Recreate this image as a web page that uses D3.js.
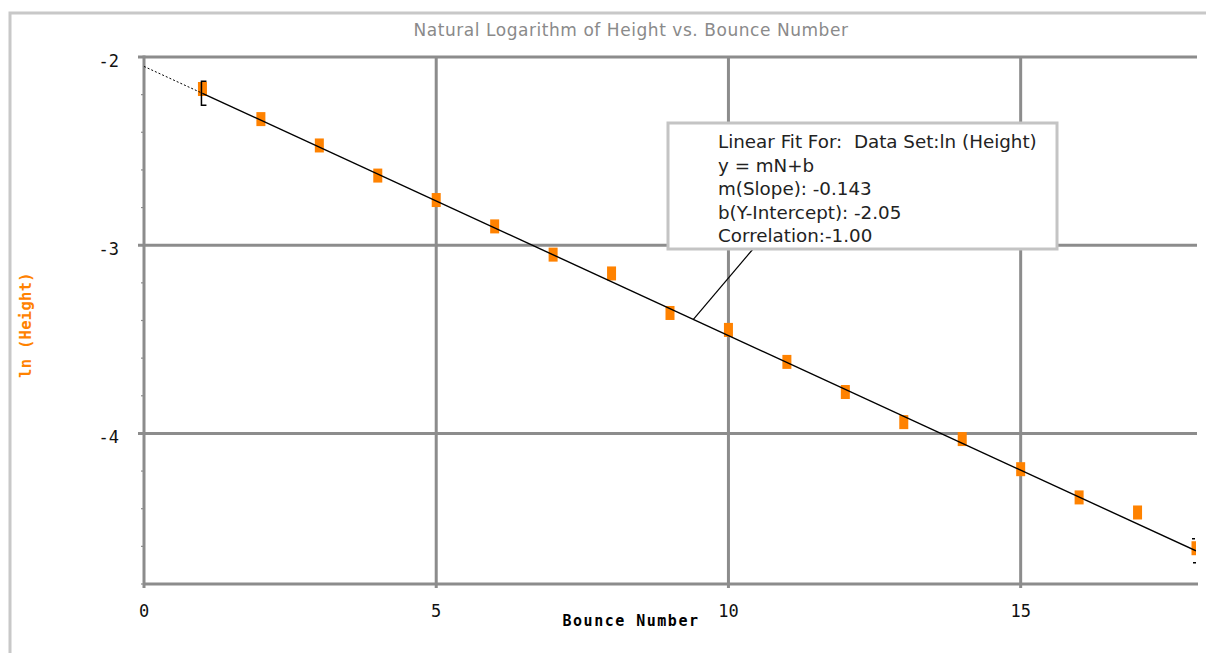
<!DOCTYPE html>
<html>
<head>
<meta charset="utf-8">
<script src="https://cdn.jsdelivr.net/npm/d3@7"></script>
<style>
  html, body { margin: 0; padding: 0; background: #fff; }
  svg { display: block; }
</style>
</head>
<body>
<div id="graph"></div>
<script>
//----------------------------------------------------------
// chart data
var g_bounce = [1, 2, 3, 4, 5, 6, 7, 8, 9, 10, 11, 12, 13, 14, 15, 16, 17, 18];
var g_ln_height = [-2.17, -2.33, -2.47, -2.63, -2.76, -2.90, -3.05, -3.15, -3.36,
                   -3.45, -3.62, -3.78, -3.94, -4.03, -4.19, -4.34, -4.42, -4.61];
var g_x_ticks = [0, 5, 10, 15];
var g_y_ticks = [-2, -3, -4];
var g_fit_slope = -0.143;
var g_fit_intercept = -2.05;
var g_fit_range = [1, 18];
var g_fit_text = [
    "Linear Fit For:  Data Set:ln (Height)",
    "y = mN+b",
    "m(Slope): -0.143",
    "b(Y-Intercept): -2.05",
    "Correlation:-1.00"
];
var g_title = "Natural Logarithm of Height vs. Bounce Number";

//----------------------------------------------------------
const width = 1206, height = 653;
const margin = { left: 144, right: 10, top: 57, bottom: 69 };
const grid_colour = "#8c8c8c";
const orange = "#ff8200";

var g_svg = d3.select("#graph")
  .append("svg")
    .attr("width", width)
    .attr("height", height);

var x = d3.scaleLinear().domain([0, 18]).range([margin.left, width - margin.right]);
var y = d3.scaleLinear().domain([-4.8, -2]).range([height - margin.bottom, margin.top]);

function Fit(n) {
    return g_fit_slope * n + g_fit_intercept;
}

// outer frame
g_svg.append("rect")
    .attr("x", 10).attr("y", 13)
    .attr("width", width).attr("height", height)
    .attr("fill", "none")
    .attr("stroke", "#c8c8c8")
    .attr("stroke-width", 3);

// title
g_svg.append("text")
    .attr("x", 631).attr("y", 36)
    .attr("text-anchor", "middle")
    .attr("font-family", "DejaVu Sans")
    .attr("font-size", 17)
    .attr("letter-spacing", 0.55)
    .attr("fill", "#8a8a8a")
    .text(g_title);

var clip = g_svg.append("clipPath").attr("id", "plot-clip")
  .append("rect")
    .attr("x", x(0)).attr("y", y(-2) - 2)
    .attr("width", x(18) - x(0)).attr("height", y(-4.8) - y(-2) + 4);

// grid
var grid = g_svg.append("g");
grid.selectAll("line.v")
  .data(g_x_ticks.filter(function (d) { return d > 0; }))
  .join("line")
    .attr("x1", function (d) { return x(d); })
    .attr("x2", function (d) { return x(d); })
    .attr("y1", y(-2)).attr("y2", y(-4.8) + 4)
    .attr("stroke", grid_colour).attr("stroke-width", 3);

grid.selectAll("line.h")
  .data(g_y_ticks)
  .join("line")
    .attr("x1", x(0) - 6).attr("x2", x(18) + 1)
    .attr("y1", function (d) { return y(d); })
    .attr("y2", function (d) { return y(d); })
    .attr("stroke", grid_colour).attr("stroke-width", 3);

// minor y ticks
grid.selectAll("line.minor")
  .data(d3.range(-4.8, -1.99, 0.2))
  .join("line")
    .attr("x1", x(0) - 3).attr("x2", x(0))
    .attr("y1", function (d) { return y(d); })
    .attr("y2", function (d) { return y(d); })
    .attr("stroke", grid_colour).attr("stroke-width", 1.2);

// axes lines
grid.append("line")
    .attr("x1", x(0)).attr("x2", x(0))
    .attr("y1", y(-2) - 1.5).attr("y2", y(-4.8) + 4)
    .attr("stroke", grid_colour).attr("stroke-width", 3);
grid.append("line")
    .attr("x1", x(0)).attr("x2", x(18) + 2)
    .attr("y1", y(-4.8)).attr("y2", y(-4.8))
    .attr("stroke", grid_colour).attr("stroke-width", 3);

// tick labels
g_svg.append("g")
  .selectAll("text")
  .data(g_y_ticks)
  .join("text")
    .attr("x", 119)
    .attr("y", function (d) { return y(d) + 10; })
    .attr("text-anchor", "end")
    .attr("font-family", "DejaVu Sans Mono")
    .attr("font-size", 17)
    .attr("fill", "#111")
    .text(function (d) { return d; });

g_svg.append("g")
  .selectAll("text")
  .data(g_x_ticks)
  .join("text")
    .attr("x", function (d) { return x(d); })
    .attr("y", 617)
    .attr("text-anchor", "middle")
    .attr("font-family", "DejaVu Sans Mono")
    .attr("font-size", 17)
    .attr("fill", "#111")
    .text(function (d) { return d; });

// axis titles
g_svg.append("text")
    .attr("x", 631).attr("y", 626)
    .attr("text-anchor", "middle")
    .attr("font-family", "DejaVu Sans Mono")
    .attr("font-weight", "bold")
    .attr("font-size", 15)
    .attr("letter-spacing", 1.5)
    .attr("fill", "#000")
    .text("Bounce Number");

g_svg.append("text")
    .attr("transform", "translate(31, 325) rotate(-90)")
    .attr("text-anchor", "middle")
    .attr("font-family", "DejaVu Sans Mono")
    .attr("font-weight", "bold")
    .attr("font-size", 15.5)
    .attr("letter-spacing", 0.3)
    .attr("fill", orange)
    .text("ln (Height)");

var plot = g_svg.append("g").attr("clip-path", "url(#plot-clip)");

// data points
plot.selectAll("rect.pt")
  .data(g_bounce)
  .join("rect")
    .attr("x", function (d) { return x(d) - 4.5; })
    .attr("y", function (d, i) { return y(g_ln_height[i]) - 7; })
    .attr("width", 9).attr("height", 14)
    .attr("fill", orange);

// fit line, dotted outside the fit range
var line = d3.line()
    .x(function (d) { return x(d); })
    .y(function (d) { return y(Fit(d)); });

plot.append("path")
    .attr("d", line([0, g_fit_range[0]]))
    .attr("stroke", "#000").attr("stroke-width", 1)
    .attr("stroke-dasharray", "2,2")
    .attr("fill", "none");
plot.append("path")
    .attr("d", line(g_fit_range))
    .attr("stroke", "#000").attr("stroke-width", 1.4)
    .attr("fill", "none");

// range brackets ("[" at the start, "]" at the end)
function Bracket(n, dir) {
    const cx = x(n) + dir;
    const cy = y(Fit(n));
    const p = d3.path();
    p.moveTo(cx - dir * 5, cy - 12);
    p.lineTo(cx, cy - 12);
    p.lineTo(cx, cy + 12);
    p.lineTo(cx - dir * 5, cy + 12);
    return p.toString();
}
plot.append("path")
    .attr("d", Bracket(g_fit_range[0], -1))
    .attr("stroke", "#000").attr("stroke-width", 1.5)
    .attr("fill", "none");
plot.append("path")
    .attr("d", Bracket(g_fit_range[1], 1))
    .attr("stroke", "#000").attr("stroke-width", 1.5)
    .attr("stroke-dasharray", "3,3")
    .attr("fill", "none");

// annotation box with leader line
const box = { x: 668, y: 123, w: 389, h: 126 };
const anchor_n = 9.4;
g_svg.append("line")
    .attr("x1", x(anchor_n)).attr("y1", y(Fit(anchor_n)))
    .attr("x2", 753).attr("y2", box.y + box.h)
    .attr("stroke", "#000").attr("stroke-width", 1.2);

g_svg.append("rect")
    .attr("x", box.x).attr("y", box.y)
    .attr("width", box.w).attr("height", box.h)
    .attr("fill", "#fff")
    .attr("stroke", "#c4c4c4")
    .attr("stroke-width", 3);

g_svg.append("g")
  .selectAll("text")
  .data(g_fit_text)
  .join("text")
    .attr("x", 718)
    .attr("y", function (d, i) { return 148 + i * 23.6; })
    .attr("font-family", "DejaVu Sans")
    .attr("font-size", 18.3)
    .style("white-space", "pre")
    .attr("fill", "#222")
    .text(function (d) { return d; });
</script>
</body>
</html>
